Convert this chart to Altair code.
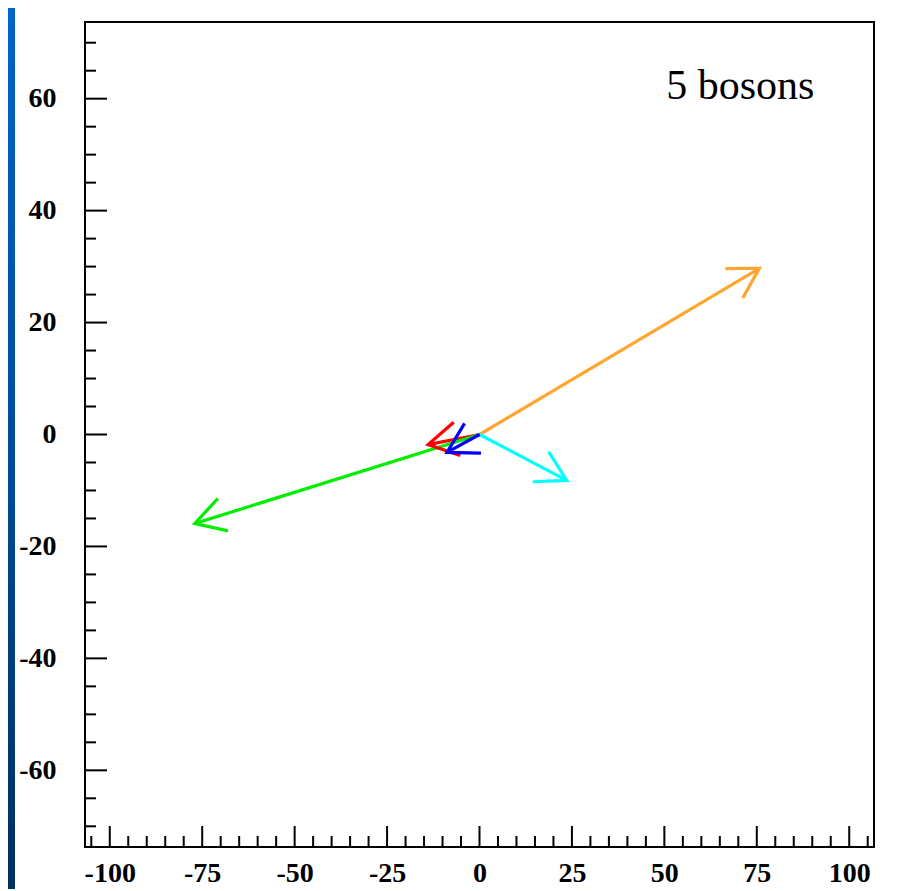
import math
import altair as alt
import pandas as pd

# ---------------- data ----------------
boson_color = ["#FFA630", "#00FFFF", "#FF0000", "#00EE00", "#0000FF"]
x_start = [0, 0, 0, 0, 0]
y_start = [0, 0, 0, 0, 0]
x_end = [75.7, 23.6, -13.9, -77.0, -8.8]
y_end = [29.7, -8.2, -1.8, -15.9, -3.2]

x_label_values = [-100, -75, -50, -25, 0, 25, 50, 75, 100]
y_label_values = [-60, -40, -20, 0, 20, 40, 60]
x_minor_values = [-105, -95, -90, -85, -80, -70, -65, -60, -55, -45, -40, -35, -30,
                  -20, -15, -10, -5, 5, 10, 15, 20, 30, 35, 40, 45, 55, 60, 65, 70,
                  80, 85, 90, 95, 105]
y_minor_values = [-70, -65, -55, -50, -45, -35, -30, -25, -15, -10, -5,
                  5, 10, 15, 25, 30, 35, 45, 50, 55, 65, 70]

note_text = ["5 bosons"]
note_x = [50.5]
note_y = [60]

# ---------------- layout ----------------
W, H = 789, 825
XD = [-106.7, 106.7]
YD = [-73.7, 73.7]
PAD = {"left": 77, "top": 14, "right": 10, "bottom": 42}

sx = W / (XD[1] - XD[0])
sy = H / (YD[1] - YD[0])

xs = alt.Scale(domain=XD, nice=False, zero=False)
ys = alt.Scale(domain=YD, nice=False, zero=False)

arrows = pd.DataFrame({
    "col": boson_color,
    "x0": x_start, "y0": y_start,
    "x1": x_end, "y1": y_end,
})
arrows["ang"] = [
    (math.degrees(math.atan2(-(b1 - b0) * sy, (a1 - a0) * sx)) + 360) % 360
    for a0, b0, a1, b1 in zip(arrows.x0, arrows.y0, arrows.x1, arrows.y1)
]

FONT = "Liberation Serif"

# left decorative strip (slide background)
strip = alt.Chart(pd.DataFrame({"k": [0]})).mark_rect(
    color=alt.Gradient(
        gradient="linear",
        stops=[alt.GradientStop(offset=0, color="#0064C8"),
               alt.GradientStop(offset=0.5, color="#004C9C"),
               alt.GradientStop(offset=1, color="#002F62")],
        x1=0, x2=0, y1=0, y2=1),
).encode(
    x=alt.value(-PAD["left"]), x2=alt.value(-PAD["left"] + 7),
    y=alt.value(-PAD["top"]), y2=alt.value(H + PAD["bottom"])
)

axis_x = alt.Axis(values=x_label_values, labelExpr="'' + datum.value", ticks=False,
                  tickSize=0, domain=False, grid=False, title=None,
                  labelFont=FONT, labelFontWeight="bold", labelFontSize=28,
                  labelColor="black", labelPadding=12, labelFlush=False)
axis_y = alt.Axis(values=y_label_values, labelExpr="'' + datum.value", ticks=False,
                  tickSize=0, domain=False, grid=False, title=None,
                  labelFont=FONT, labelFontWeight="bold", labelFontSize=28,
                  labelColor="black", labelPadding=29, labelFlush=False)

# tick marks drawn inside the frame (ROOT style)
xmaj = alt.Chart(pd.DataFrame({"v": x_label_values})).mark_rule(
    color="black", strokeWidth=2).encode(
    x=alt.X("v:Q", scale=xs, axis=axis_x),
    y=alt.value(H), y2=alt.value(H - 21))
xmin = alt.Chart(pd.DataFrame({"v": x_minor_values})).mark_rule(
    color="black", strokeWidth=2).encode(
    x=alt.X("v:Q", scale=xs),
    y=alt.value(H), y2=alt.value(H - 11))
ymaj = alt.Chart(pd.DataFrame({"v": y_label_values})).mark_rule(
    color="black", strokeWidth=2).encode(
    y=alt.Y("v:Q", scale=ys, axis=axis_y),
    x=alt.value(0), x2=alt.value(22))
ymin = alt.Chart(pd.DataFrame({"v": y_minor_values})).mark_rule(
    color="black", strokeWidth=2).encode(
    y=alt.Y("v:Q", scale=ys),
    x=alt.value(0), x2=alt.value(11))

shafts = alt.Chart(arrows).mark_rule(strokeWidth=3.2).encode(
    x=alt.X("x0:Q", scale=xs), y=alt.Y("y0:Q", scale=ys),
    x2="x1:Q", y2="y1:Q",
    color=alt.Color("col:N", scale=None),
)

heads = alt.Chart(arrows).mark_point(
    shape="M -0.866 -0.5 L 0 0 L -0.866 0.5",
    size=4624, filled=False, strokeWidth=3.2, opacity=1,
).encode(
    x=alt.X("x1:Q", scale=xs), y=alt.Y("y1:Q", scale=ys),
    angle=alt.Angle("ang:Q", scale=None),
    color=alt.Color("col:N", scale=None),
)

note = alt.Chart(pd.DataFrame({"t": note_text, "x": note_x, "y": note_y})).mark_text(
    font=FONT, fontSize=42, align="left", baseline="alphabetic", color="black"
).encode(x=alt.X("x:Q", scale=xs), y=alt.Y("y:Q", scale=ys), text="t:N")

chart = alt.layer(strip, xmin, xmaj, ymin, ymaj, shafts, heads, note).properties(
    width=W, height=H,
    padding=PAD,
    autosize=alt.AutoSizeParams(type="none"),
    background="white",
).configure_view(stroke="black", strokeWidth=2)

chart.save("out.html", embed_options={"renderer": "svg", "actions": False})
